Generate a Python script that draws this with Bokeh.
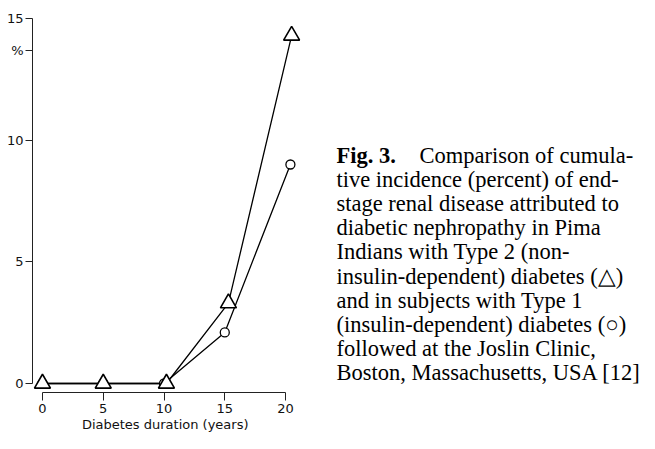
from bokeh.plotting import figure
from bokeh.layouts import row, column
from bokeh.models import Range1d, FixedTicker, ColumnDataSource
from bokeh.core.properties import value
from bokeh.embed import file_html
from bokeh.resources import INLINE

# Data
duration_tri = [0, 5, 10.2, 15.3, 20.5]
pima_type2 = [0, 0, 0, 3.3, 14.3]
duration_circ = [0, 5, 10, 15, 20.4]
joslin_type1 = [0, 0, 0, 2.1, 9.0]
x_ticks = [0, 5, 10, 15, 20]
y_ticks = [0, 5, 10, 13.7, 15]
y_tick_labels = {13.7: "%"}
x_label = "Diabetes duration (years)"

caption_lines = [
    "tive incidence (percent) of end-",
    "stage renal disease attributed to",
    "diabetic nephropathy in Pima",
    "Indians with Type 2 (non-",
    "insulin-dependent) diabetes (\u25b3)",
    "and in subjects with Type 1",
    "(insulin-dependent) diabetes (\u25cb)",
    "followed at the Joslin Clinic,",
    "Boston, Massachusetts, USA [12]",
]

H = 433
W1 = 330
W2 = 309
HP = 416   # height of the chart canvas
HX = H - HP
FB = 392   # frame bottom
SCALE = (383 - 18) / 15.0
p = figure(width=W1, height=HP, output_backend="svg", toolbar_location=None,
           x_range=Range1d(-0.82, 21.23),
           y_range=Range1d(-(FB - 383) / SCALE, 15 + 6 / SCALE),
           min_border_left=32, min_border_right=30, min_border_top=12,
           min_border_bottom=HP - FB)
p.outline_line_color = None
p.grid.grid_line_color = None

for ax, ticks in ((p.xaxis, x_ticks), (p.yaxis, y_ticks)):
    ax.ticker = FixedTicker(ticks=ticks)
    ax.minor_tick_line_color = None
    ax.major_tick_in = 0
    ax.axis_line_color = "#222222"
    ax.major_tick_line_color = "#222222"
    ax.major_label_text_font = "DejaVu Sans"
    ax.major_label_text_font_size = "13px"
    ax.major_label_text_color = "#111111"

p.yaxis.major_label_overrides = y_tick_labels
p.xaxis.bounds = (0, 20)
p.yaxis.bounds = (0, 15)
p.xaxis.major_tick_out = 8
p.xaxis.major_label_standoff = 3
p.yaxis.major_tick_out = 7
p.yaxis.major_label_standoff = 2

p.line(duration_circ, joslin_type1, line_color="black", line_width=1.3)
p.line(duration_tri, pima_type2, line_color="black", line_width=1.3)
p.scatter(duration_circ, joslin_type1, marker="circle", size=9,
          fill_color="white", line_color="black", line_width=1.3)
p.scatter(duration_tri, pima_type2, marker="triangle", size=16,
          fill_color="white", line_color="black", line_width=1.6)

# x-axis title strip under the chart
xl = figure(width=W1, height=HX, output_backend="svg", toolbar_location=None,
            x_range=Range1d(-0.82, 21.23), y_range=Range1d(HX, 0),
            x_axis_type=None, y_axis_type=None,
            min_border_left=32, min_border_right=30, min_border_top=0,
            min_border_bottom=0)
xl.outline_line_color = None
xl.grid.grid_line_color = None
xl.text(x=[10.1], y=[0], text=[x_label], text_font=value("DejaVu Sans"),
        text_font_size="13px", text_align="center",
        text_baseline="top", text_color="#111111")

# Caption panel
c = figure(width=W2, height=H, output_backend="svg", toolbar_location=None,
           x_range=Range1d(0, W2), y_range=Range1d(H, 0),
           x_axis_type=None, y_axis_type=None,
           min_border_left=0, min_border_right=0, min_border_top=0,
           min_border_bottom=0)
c.outline_line_color = None
c.grid.grid_line_color = None

serif = value("Liberation Serif")
fs = "22.5px"
base0 = 155
step = 24.1
cx0 = 336 - W1
c.text(x=[cx0], y=[base0], text=["Fig. 3."], text_font=serif,
       text_font_size=fs, text_font_style="bold",
       text_baseline="alphabetic", text_color="black")
c.text(x=[419 - W1], y=[base0], text=["Comparison of cumula-"],
       text_font=serif, text_font_size=fs,
       text_baseline="alphabetic", text_color="black")
src = ColumnDataSource(dict(
    x=[cx0] * len(caption_lines),
    y=[base0 + step * (i + 1) for i in range(len(caption_lines))],
    t=caption_lines))
c.text(x="x", y="y", text="t", source=src, text_font=serif,
       text_font_size=fs, text_baseline="alphabetic", text_color="black")

layout = row(column(p, xl, spacing=0), c, spacing=0)
open("out.html", "w").write(file_html(layout, INLINE))
